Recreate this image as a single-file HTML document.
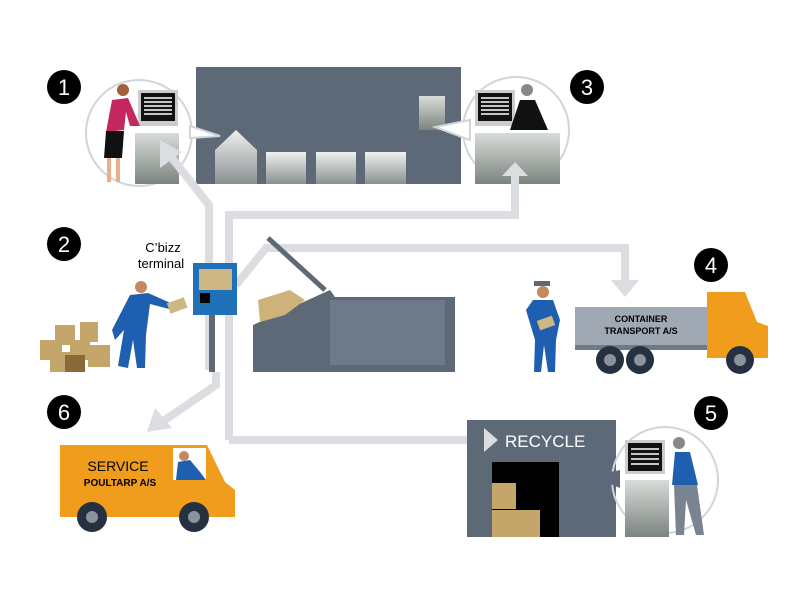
<!DOCTYPE html>
<html><head><meta charset="utf-8"><style>
html,body{margin:0;padding:0;background:#fff;width:800px;height:600px;overflow:hidden}
text{font-family:"Liberation Sans",sans-serif}
</style></head><body>
<svg width="800" height="600" viewBox="0 0 800 600" xmlns="http://www.w3.org/2000/svg">
<defs>
<linearGradient id="g" x1="0" y1="0" x2="0" y2="1"><stop offset="0" stop-color="#d8dcd8"/><stop offset="1" stop-color="#7c8480"/></linearGradient>
<linearGradient id="g2" x1="0" y1="0" x2="0" y2="1"><stop offset="0" stop-color="#f0f0f0"/><stop offset="1" stop-color="#8a9090"/></linearGradient>
</defs>
<!-- panel -->
<rect x="196" y="67" width="265" height="117" fill="#5d6977"/>
<path d="M215,150 L236,130 L257,150 L257,184 L215,184Z" fill="url(#g2)"/>
<rect x="266" y="152" width="40" height="32" fill="url(#g2)"/>
<rect x="316" y="152" width="40" height="32" fill="url(#g2)"/>
<rect x="365" y="152" width="41" height="32" fill="url(#g2)"/>
<rect x="419" y="96" width="26" height="34" fill="url(#g)"/>
<!-- circles -->
<circle cx="139" cy="133" r="53" fill="none" stroke="#d0d4dc" stroke-width="2"/>
<circle cx="516" cy="130" r="53" fill="none" stroke="#d0d4dc" stroke-width="2"/>
<path d="M190,126 L220,136 L190,138Z" fill="#fff" stroke="#d0d4dc" stroke-width="2"/>
<path d="M470,120 L435,127 L470,140Z" fill="#fff" stroke="#d0d4dc" stroke-width="2"/>
<!-- desk 1 person -->
<rect x="138" y="90" width="40" height="36" fill="#ccc"/><rect x="141" y="93" width="34" height="28" fill="#111"/>
<g stroke="#fff" stroke-width="1.5"><line x1="144" y1="98" x2="172" y2="98"/><line x1="144" y1="102" x2="172" y2="102"/><line x1="144" y1="106" x2="172" y2="106"/><line x1="144" y1="110" x2="172" y2="110"/><line x1="144" y1="114" x2="172" y2="114"/></g>
<rect x="135" y="133" width="44" height="51" fill="url(#g)"/>
<circle cx="123" cy="90" r="6" fill="#a0603a"/>
<path d="M112,100 L128,98 L140,126 L130,126 L126,112 L124,130 L106,132Z" fill="#c52860"/>
<path d="M106,131 L124,131 L122,158 L104,158Z" fill="#111"/>
<rect x="107" y="158" width="4" height="24" fill="#e8b08a"/><rect x="116" y="158" width="4" height="24" fill="#e8b08a"/>
<!-- desk 3 person -->
<rect x="475" y="90" width="40" height="36" fill="#ccc"/><rect x="478" y="93" width="34" height="28" fill="#111"/>
<g stroke="#fff" stroke-width="1.5"><line x1="481" y1="98" x2="509" y2="98"/><line x1="481" y1="102" x2="509" y2="102"/><line x1="481" y1="106" x2="509" y2="106"/><line x1="481" y1="110" x2="509" y2="110"/><line x1="481" y1="114" x2="509" y2="114"/></g>
<circle cx="527" cy="90" r="6" fill="#888"/>
<path d="M520,100 L535,100 L548,130 L510,130Z" fill="#111"/>
<rect x="475" y="133" width="85" height="51" fill="url(#g)"/>
<!-- connectors -->
<g fill="none" stroke="#dcdde1" stroke-width="8">
<path d="M209,370 L209,205 L168,153"/>
<path d="M229,440 L229,215 L515,215 L515,172"/>
<path d="M236,285 L266,248 L625,248 L625,282"/>
<path d="M229,440 L484,440"/>
<path d="M216,372 L216,385 L165,420"/>
</g>
<g fill="#dcdde1">
<path d="M160,140 L182,152 L160,168Z"/>
<path d="M502,176 L515,162 L528,176Z"/>
<path d="M611,280 L625,297 L639,280Z"/>
<path d="M484,428 L498,440 L484,452Z"/>
<path d="M147,432 L155,408 L172,428Z"/>
</g>
<!-- badges -->
<g fill="#000"><circle cx="64" cy="87" r="17"/><circle cx="587" cy="87" r="17"/><circle cx="64" cy="244" r="17"/><circle cx="711" cy="265" r="17"/><circle cx="711" cy="413" r="17"/><circle cx="64" cy="412" r="17"/></g>
<g fill="#fff" font-size="22" text-anchor="middle"><text x="64" y="95">1</text><text x="587" y="95">3</text><text x="64" y="252">2</text><text x="711" y="273">4</text><text x="711" y="421">5</text><text x="64" y="420">6</text></g>
<!-- terminal -->
<text x="163" y="252" font-size="13" text-anchor="middle">C’bizz</text>
<text x="161" y="268" font-size="13" text-anchor="middle">terminal</text>
<rect x="193" y="263" width="44" height="52" fill="#1f72b8"/>
<rect x="199" y="269" width="33" height="21" fill="#cdb883"/>
<rect x="200" y="293" width="10" height="10" fill="#000"/>
<rect x="209" y="315" width="6" height="57" fill="#5d6977"/>
<!-- boxes pile & worker 2 -->
<g fill="#c4a66a"><rect x="40" y="340" width="22" height="20"/><rect x="55" y="325" width="20" height="20"/><rect x="70" y="340" width="20" height="20"/><rect x="80" y="322" width="18" height="20"/><rect x="50" y="352" width="20" height="20"/><rect x="88" y="345" width="22" height="22"/><rect x="65" y="355" width="20" height="17" fill="#8a6a3a"/></g>
<circle cx="141" cy="287" r="6" fill="#c48860"/>
<path d="M130,295 L148,293 L175,305 L173,310 L150,304 L146,335 L145,368 L137,368 L133,340 L128,368 L118,366 L124,330 L115,340 L112,330Z" fill="#1f5fb0"/>
<rect x="168" y="300" width="18" height="11" fill="#cdb883" transform="rotate(-20 177 305)"/>
<!-- compactor -->
<path d="M253,325 L330,290 L335,297 L455,297 L455,372 L253,372Z" fill="#5d6977"/>
<rect x="330" y="300" width="115" height="65" fill="#6e7a88"/>
<line x1="268" y1="238" x2="325" y2="290" stroke="#5d6977" stroke-width="5"/>
<path d="M258,300 L290,290 L305,300 L285,315 L260,322Z" fill="#cdb37a"/>
<!-- worker 4 -->
<circle cx="543" cy="292" r="6" fill="#c48860"/><rect x="534" y="281" width="16" height="5" fill="#666"/>
<path d="M533,300 L553,300 L560,320 L556,340 L555,372 L548,372 L544,345 L541,372 L534,372 L535,340 L526,310Z" fill="#1f5fb0"/>
<rect x="538" y="318" width="16" height="10" fill="#cdb883" transform="rotate(-20 546 323)"/>
<!-- truck -->
<rect x="575" y="307" width="132" height="38" fill="#a0a8b4"/>
<text x="641" y="322" font-size="9" text-anchor="middle" font-weight="bold">CONTAINER</text>
<text x="641" y="334" font-size="9" text-anchor="middle" font-weight="bold">TRANSPORT A/S</text>
<rect x="575" y="345" width="132" height="5" fill="#6e7a88"/>
<path d="M707,292 L745,292 L757,322 L768,326 L768,358 L707,358Z" fill="#f09c1c"/>
<rect x="722" y="300" width="22" height="22" fill="#fff" opacity=".0"/>
<g fill="#253141"><circle cx="610" cy="360" r="14"/><circle cx="640" cy="360" r="14"/><circle cx="740" cy="360" r="14"/></g>
<g fill="#8a929c"><circle cx="610" cy="360" r="6"/><circle cx="640" cy="360" r="6"/><circle cx="740" cy="360" r="6"/></g>
<!-- van -->
<path d="M60,445 L207,445 L225,482 L235,490 L235,517 L60,517Z" fill="#f09c1c"/>
<rect x="173" y="448" width="33" height="32" fill="#fff"/>
<path d="M176,480 L178,462 L190,460 L200,472 L206,480Z" fill="#1f5fb0"/><circle cx="184" cy="456" r="5" fill="#c48860"/>
<text x="118" y="471" font-size="14" text-anchor="middle">SERVICE</text>
<text x="120" y="486" font-size="10" text-anchor="middle" font-weight="bold">POULTARP A/S</text>
<g fill="#253141"><circle cx="92" cy="517" r="15"/><circle cx="194" cy="517" r="15"/></g>
<g fill="#8a929c"><circle cx="92" cy="517" r="6"/><circle cx="194" cy="517" r="6"/></g>
<!-- recycle -->
<rect x="467" y="420" width="149" height="117" fill="#5d6977"/>
<path d="M484,428 L498,440 L484,452Z" fill="#dcdde1"/>
<text x="505" y="447" font-size="17" fill="#fff">RECYCLE</text>
<rect x="492" y="462" width="67" height="75" fill="#000"/>
<g fill="#c4a66a"><rect x="492" y="483" width="24" height="26"/><rect x="492" y="510" width="24" height="27"/><rect x="512" y="510" width="28" height="27"/></g>
<circle cx="665" cy="480" r="53" fill="none" stroke="#d0d4dc" stroke-width="2"/>
<path d="M620,470 L590,476 L620,488Z" fill="#5d6977"/>
<rect x="625" y="440" width="40" height="34" fill="#ccc"/><rect x="628" y="443" width="34" height="28" fill="#111"/>
<g stroke="#fff" stroke-width="1.5"><line x1="631" y1="449" x2="659" y2="449"/><line x1="631" y1="454" x2="659" y2="454"/><line x1="631" y1="459" x2="659" y2="459"/><line x1="631" y1="464" x2="659" y2="464"/></g>
<rect x="625" y="480" width="44" height="57" fill="url(#g)"/>
<circle cx="679" cy="443" r="6" fill="#888"/>
<path d="M675,452 L690,452 L698,485 L672,485Z" fill="#1f5fb0"/>
<path d="M674,485 L697,485 L704,535 L696,535 L686,500 L684,535 L676,535Z" fill="#7a8490"/>
</svg>
</body></html>
